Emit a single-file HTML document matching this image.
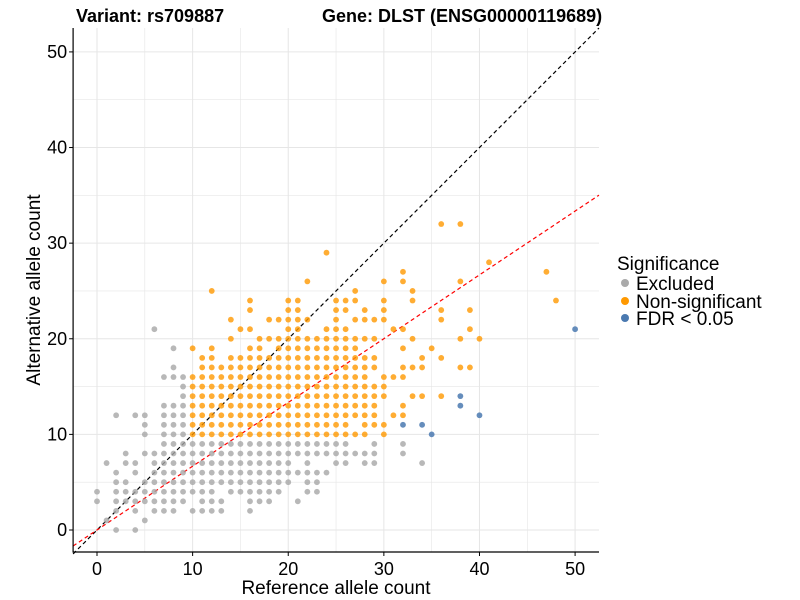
<!DOCTYPE html>
<html><head><meta charset="utf-8"><style>
html,body{margin:0;padding:0;background:#fff;}
svg{display:block;font-family:"Liberation Sans",Arial,sans-serif;}
</style></head><body>
<svg id="chart" width="800" height="600">
<g id="grid"></g>
<g id="lines"></g>
<g id="pts"></g>
<g id="axes"></g>
<text x="76" y="22" font-size="18" font-weight="bold">Variant: rs709887<tspan x="322">Gene: DLST (ENSG00000119689)</tspan></text>
<text x="336" y="594" font-size="19" text-anchor="middle">Reference allele count</text>
<text transform="translate(40,290) rotate(-90)" font-size="19" text-anchor="middle">Alternative allele count</text>
<g>
<text x="617" y="270" font-size="19">Significance</text>
<g><circle cx="625" cy="283" r="4" fill="#aaaaaa"/><text x="636" y="290" font-size="19">Excluded</text></g>
<g><circle cx="625" cy="301" r="4" fill="#ff9900"/><text x="636" y="308" font-size="19">Non-significant</text></g>
<g><circle cx="625" cy="318" r="4" fill="#4a79b0"/><text x="636" y="325" font-size="19">FDR &lt; 0.05</text></g>
</g>
</svg>
<script>
const xTicks = [0, 10, 20, 30, 40, 50];
const yTicks = [0, 10, 20, 30, 40, 50];
// rows: alt value, list of ref values ("a-b" = range)
const excludedAlt = [0,1,2,3,4,5,6,7,8,9,10,11,12,13,14,15,16,17,19,21];
const excludedRefs = [
 "2,4","1,5","2,4,6,7,8,10,11,12,13,16",
 "0,2,3,4,5,6,7,8,9,11,12,13,16,17,18,21",
 "0,2-12,14-19,22,23","2,3,5-20,22,23","2,4,6-21,22,23,24",
 "1,3,4,6-20,22,25,26,28,29,34","3,5-29,32","7-26,29,32",
 "5,7,8,9","5,7,8,9","2,4,5,7,8,9","7,8,9","9","9","7,8,9","8","8","6"];
const nonsigAlt = [10,11,12,13,14,15,16,17,18,19,20,21,22,23,24,25,26,27,28,29,32];
const nonsigRefs = [
 "10-28,30","10-26,28,29,30","10-29,31,32","10-29,32","10-30,33,34,36",
 "10-27,28,29,30","10-28,30,31,32","11-29,32,33,34,38,39","11,12,14-29,34,36",
 "10,12,16,17,19-27,32,35","14,17-29,33,38,40","15,16,20,21,24,25,26,31,32,39",
 "14,18-22,25,27,28,29,30,36","16,20,21,25,26,28,30,36,39","16,20,21,25,26,27,30,33,48",
 "12,27,33","22,30,32,38","32,47","41","24","36,38"];
const fdrAlt = [10,11,11,12,13,14,21];
const fdrRef = [35,32,34,40,38,38,50];
const slopeRed = 0.667;

const NS='http://www.w3.org/2000/svg';
const X0=73.1,X1=599,Y0=552,Y1=28,DMIN=-2.5,DMAX=52.5,YMIN=-2.3,YMAX=52.5;
const xs=v=>X0+(v-DMIN)/(DMAX-DMIN)*(X1-X0);
const ys=v=>Y0-(v-YMIN)/(YMAX-YMIN)*(Y0-Y1);
function mk(tag,attrs,parent){const e=document.createElementNS(NS,tag);for(const k in attrs)e.setAttribute(k,attrs[k]);parent.appendChild(e);return e;}
function parse(s){const out=[];s.split(',').forEach(p=>{if(p.includes('-')){const [a,b]=p.split('-').map(Number);for(let i=a;i<=b;i++)out.push(i);}else out.push(Number(p));});return out;}
const grid=document.getElementById('grid'),pts=document.getElementById('pts'),axes=document.getElementById('axes'),lines=document.getElementById('lines');
for(let v=0;v<=50;v+=5){
 const l1=mk('line',{x1:xs(v),x2:xs(v),y1:Y1,y2:Y0,stroke:'#e6e6e6','stroke-width':v%10?0.6:1},grid);
 
 
 const l2=mk('line',{x1:X0,x2:X1,y1:ys(v),y2:ys(v),stroke:'#e6e6e6','stroke-width':v%10?0.6:1},grid);
 
 
}
const d1=mk('line',{x1:xs(DMIN),y1:ys(DMIN),x2:xs(52.5),y2:ys(52.5),stroke:'#000','stroke-width':1.2,'stroke-dasharray':'4,3'},lines);


const d2=mk('line',{x1:xs(DMIN),y1:ys(DMIN*slopeRed),x2:xs(DMAX),y2:ys(DMAX*slopeRed),stroke:'#ff0000','stroke-width':1.2,'stroke-dasharray':'4,3'},lines);


function drawRows(alts,refs,color,name){
 alts.forEach((a,i)=>{parse(refs[i]).forEach(r=>{
  const c=mk('circle',{cx:xs(r),cy:ys(a),r:2.9,fill:color,'fill-opacity':0.8},pts);
  
  
 });});
}
drawRows(excludedAlt,excludedRefs,'#a6a6a6','point-excluded');
drawRows(nonsigAlt,nonsigRefs,'#ff9900','point-non-significant');
fdrAlt.forEach((a,i)=>{
 const c=mk('circle',{cx:xs(fdrRef[i]),cy:ys(a),r:2.9,fill:'#4a79b0','fill-opacity':0.85},pts);
 
 
});
const ax=mk('path',{d:`M${X0},${Y1}V${Y0}H${X1}`,stroke:'#000','stroke-width':1.2,fill:'none'},axes);


xTicks.forEach(v=>{
 mk('line',{x1:xs(v),x2:xs(v),y1:Y0,y2:Y0+4,stroke:'#000'},axes);
 const t=mk('text',{x:xs(v),y:Y0+23,'font-size':18,'text-anchor':'middle'},axes);
 t.textContent=v;
 
 
});
yTicks.forEach(v=>{
 mk('line',{x1:X0-4,x2:X0,y1:ys(v),y2:ys(v),stroke:'#000'},axes);
 const t=mk('text',{x:X0-6,y:ys(v)+6,'font-size':18,'text-anchor':'end'},axes);
 t.textContent=v;
 
 
});
</script>
</body></html>
